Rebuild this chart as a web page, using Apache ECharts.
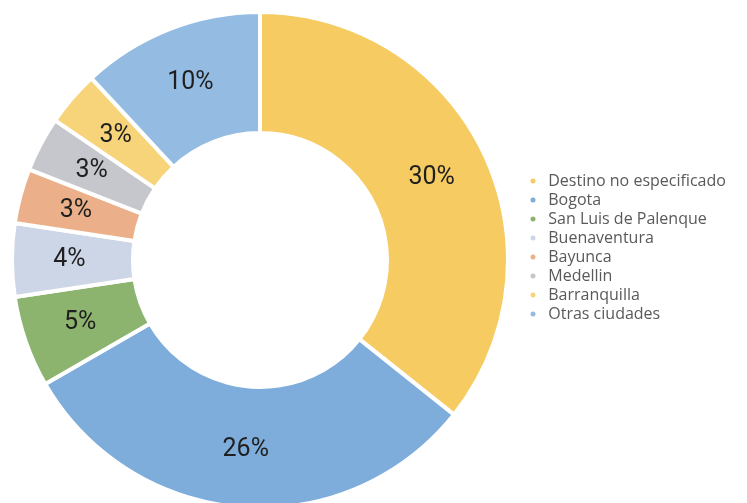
<!DOCTYPE html>
<html>
<head>
<meta charset="utf-8">
<script src="https://cdn.jsdelivr.net/npm/echarts@6/dist/echarts.min.js"></script>
<style>
  html, body { margin: 0; padding: 0; background: #ffffff; }
  #chart { width: 747px; height: 503px; }
</style>
</head>
<body>
<div id="chart"></div>
<script>
// Destinations and their shares (%)
const categories = [
  'Destino no especificado',
  'Bogota',
  'San Luis de Palenque',
  'Buenaventura',
  'Bayunca',
  'Medellin',
  'Barranquilla',
  'Otras ciudades'
];
const shares = [30, 26, 5, 4, 3, 3, 3, 10];
const sliceColors = ['#F5CB62', '#7EADDC', '#8DB46E', '#CDD6E6', '#EBB08A', '#C5C7CD', '#F7D47A', '#94BCE2'];

const chart = echarts.init(document.getElementById('chart'), null, { renderer: 'canvas' });

chart.setOption({
  animation: false,
  backgroundColor: '#ffffff',
  color: sliceColors,
  legend: {
    orient: 'vertical',
    left: 523.5,
    top: 167.5,
    itemGap: 2,
    icon: 'circle',
    itemWidth: 20.5,
    itemHeight: 7,
    textStyle: { fontFamily: 'Open Sans', fontSize: 16, color: '#595959', lineHeight: 17 },
    data: categories
  },
  series: [{
    type: 'pie',
    center: [260, 260],
    radius: [127, 248],
    startAngle: 90,
    clockwise: true,
    avoidLabelOverlap: false,
    itemStyle: { borderColor: '#ffffff', borderWidth: 4 },
    label: {
      show: true,
      position: 'inside',
      formatter: '{c}%',
      fontFamily: 'Roboto',
      fontSize: 25,
      color: '#1f1f1f'
    },
    labelLine: { show: false },
    data: categories.map((name, i) => ({ name: name, value: shares[i] }))
  }]
});
</script>
</body>
</html>
